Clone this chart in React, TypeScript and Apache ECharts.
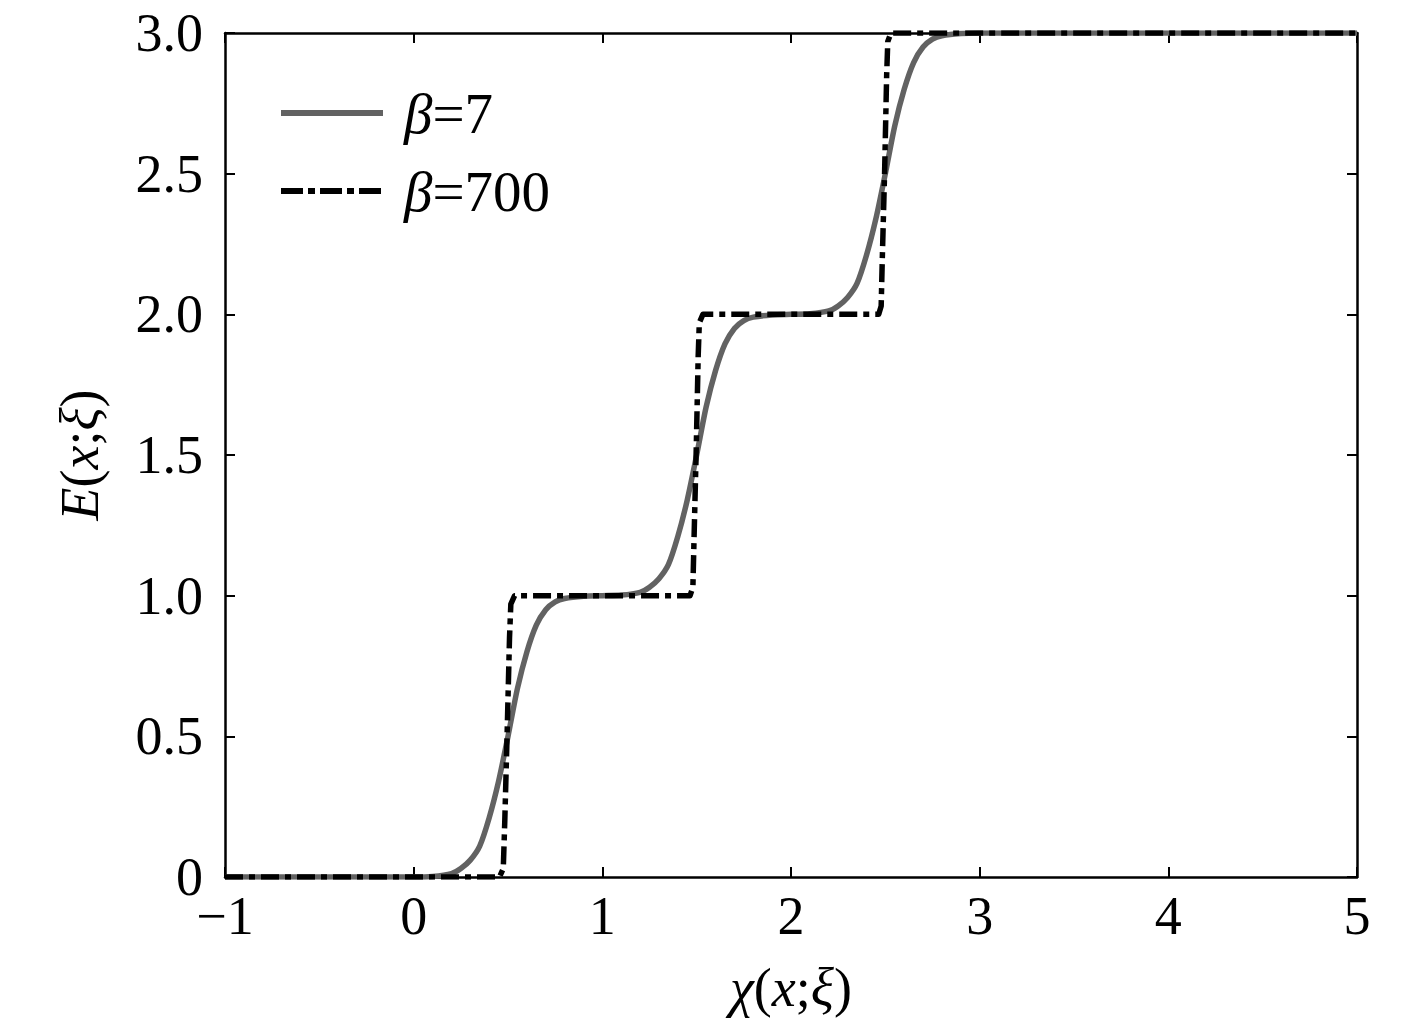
import React, { useEffect, useRef } from "react";
import * as echarts from "echarts";

// ---- data ----
const seriesNames = ["β=7", "β=700"];

// β = 7 (smooth grey staircase)
const smoothX = [
  -1, 0, 0.1, 0.2, 0.25, 0.3, 0.35, 0.4, 0.45, 0.5, 0.55, 0.6, 0.65, 0.7, 0.75, 0.8, 0.9,
  1.0, 1.1, 1.2, 1.25, 1.3, 1.35, 1.4, 1.45, 1.5, 1.55, 1.6, 1.65, 1.7, 1.75, 1.8, 1.9,
  2.0, 2.1, 2.2, 2.25, 2.3, 2.35, 2.4, 2.45, 2.5, 2.55, 2.6, 2.65, 2.7, 2.75, 2.8, 2.9,
  3.0, 5,
];
const smoothY = [
  0, 0, 0.002, 0.012, 0.03, 0.06, 0.11, 0.21, 0.34, 0.5, 0.67, 0.8, 0.895, 0.95, 0.978, 0.99, 0.998,
  1.0, 1.002, 1.012, 1.03, 1.06, 1.11, 1.21, 1.34, 1.5, 1.67, 1.8, 1.895, 1.95, 1.978, 1.99, 1.998,
  2.0, 2.002, 2.012, 2.03, 2.06, 2.11, 2.21, 2.34, 2.5, 2.67, 2.8, 2.895, 2.95, 2.978, 2.99, 2.998,
  3.0, 3.0,
];

// β = 700 (sharp dash-dot staircase)
const sharpX = [
  -1, 0.455, 0.475, 0.483, 0.495, 0.508, 0.515, 0.535,
  1.465, 1.48, 1.486, 1.497, 1.508, 1.514, 1.533,
  2.465, 2.478, 2.484, 2.496, 2.507, 2.513, 2.53,
  5,
];
const sharpY = [
  0, 0, 0.03, 0.2, 0.5, 0.85, 0.97, 1.0,
  1.0, 1.03, 1.2, 1.5, 1.85, 1.97, 2.0,
  2.0, 2.03, 2.2, 2.5, 2.85, 2.97, 3.0,
  3.0,
];

const xMin = -1;
const xMax = 5;
const xStep = 1;
const yMin = 0;
const yMax = 3;
const yStep = 0.5;

const FONT = "'Liberation Serif', 'Times New Roman', serif";
const GREY = "#626262";
const DASH = [18, 6, 6, 6];

function zip(xs: number[], ys: number[]) {
  return xs.map((x, i) => [x, ys[i]]);
}

export default function App() {
  const ref = useRef<HTMLDivElement>(null);

  useEffect(() => {
    if (!ref.current) return;
    const chart = echarts.init(ref.current, undefined, { renderer: "svg" });

    const richText = {
      i: { fontFamily: FONT, fontStyle: "italic", fontSize: 54, color: "#000" },
      n: { fontFamily: FONT, fontStyle: "normal", fontSize: 54, color: "#000" },
    };

    const axisCommon = {
      axisLine: { show: true, onZero: false, lineStyle: { color: "#000", width: 2.5 } },
      axisTick: { show: true, inside: true, length: 10, lineStyle: { color: "#000", width: 2 } },
      splitLine: { show: false },
    };

    const fmtX = (v: number) => (v < 0 ? "\u2212" + Math.abs(v) : String(v));
    const fmtY = (v: number) => (v === 0 ? "0" : v.toFixed(1));

    const legendRich = {
      i: { fontFamily: FONT, fontStyle: "italic", fontSize: 57, fill: "#000" },
      n: { fontFamily: FONT, fontSize: 57, fill: "#000" },
    };

    chart.setOption({
      animation: false,
      backgroundColor: "#fff",
      grid: { left: 225, right: 60, top: 33, bottom: 151, containLabel: false },
      graphic: [
        {
          type: "line",
          shape: { x1: 281, y1: 113, x2: 383, y2: 113 },
          style: { stroke: GREY, lineWidth: 6 },
          z: 10,
        },
        {
          type: "text",
          x: 404,
          y: 113,
          style: {
            text: `{i|β}{n|${seriesNames[0].slice(1)}}`,
            rich: legendRich,
            verticalAlign: "middle",
            align: "left",
          },
          z: 10,
        },
        {
          type: "line",
          shape: { x1: 281, y1: 191, x2: 383, y2: 191 },
          style: { stroke: "#000", lineWidth: 6, lineDash: [22, 5, 7, 5] },
          z: 10,
        },
        {
          type: "text",
          x: 404,
          y: 191,
          style: {
            text: `{i|β}{n|${seriesNames[1].slice(1)}}`,
            rich: legendRich,
            verticalAlign: "middle",
            align: "left",
          },
          z: 10,
        },
      ],
      xAxis: [
        {
          type: "value",
          position: "bottom",
          min: xMin,
          max: xMax,
          interval: xStep,
          ...axisCommon,
          axisLabel: {
            fontFamily: FONT,
            fontSize: 54,
            color: "#000",
            margin: 12,
            formatter: fmtX,
          },
          name: "{i|χ}{n|(}{i|x}{n|;}{i|ξ}{n|)}",
          nameLocation: "middle",
          nameGap: 84,
          nameTextStyle: { rich: richText },
        },
        {
          type: "value",
          position: "top",
          min: xMin,
          max: xMax,
          interval: xStep,
          ...axisCommon,
          axisLabel: { show: false },
        },
      ],
      yAxis: [
        {
          type: "value",
          position: "left",
          min: yMin,
          max: yMax,
          interval: yStep,
          ...axisCommon,
          axisLabel: {
            fontFamily: FONT,
            fontSize: 54,
            color: "#000",
            margin: 22,
            formatter: fmtY,
          },
          name: "{i|E}{n|(}{i|x}{n|;}{i|ξ}{n|)}",
          nameLocation: "middle",
          nameRotate: 90,
          nameGap: 118,
          nameTextStyle: { rich: richText },
        },
        {
          type: "value",
          position: "right",
          min: yMin,
          max: yMax,
          interval: yStep,
          ...axisCommon,
          axisLabel: { show: false },
        },
      ],
      series: [
        {
          name: seriesNames[0],
          type: "line",
          xAxisIndex: 0,
          yAxisIndex: 0,
          data: zip(smoothX, smoothY),
          symbol: "none",
          smooth: 0.25,
          lineStyle: { color: GREY, width: 5.5, join: "round" },
          itemStyle: { color: GREY },
          z: 3,
        },
        {
          name: seriesNames[1],
          type: "line",
          xAxisIndex: 0,
          yAxisIndex: 0,
          data: zip(sharpX, sharpY),
          symbol: "none",
          lineStyle: {
            color: "#000",
            width: 5.5,
            type: DASH,
            join: "round",
          },
          itemStyle: { color: "#000" },
          z: 4,
        },
      ],
    });

    return () => chart.dispose();
  }, []);

  return (
    <div
      ref={ref}
      style={{ position: "fixed", left: 0, top: 0, width: 1417, height: 1028, background: "#fff" }}
    />
  );
}
